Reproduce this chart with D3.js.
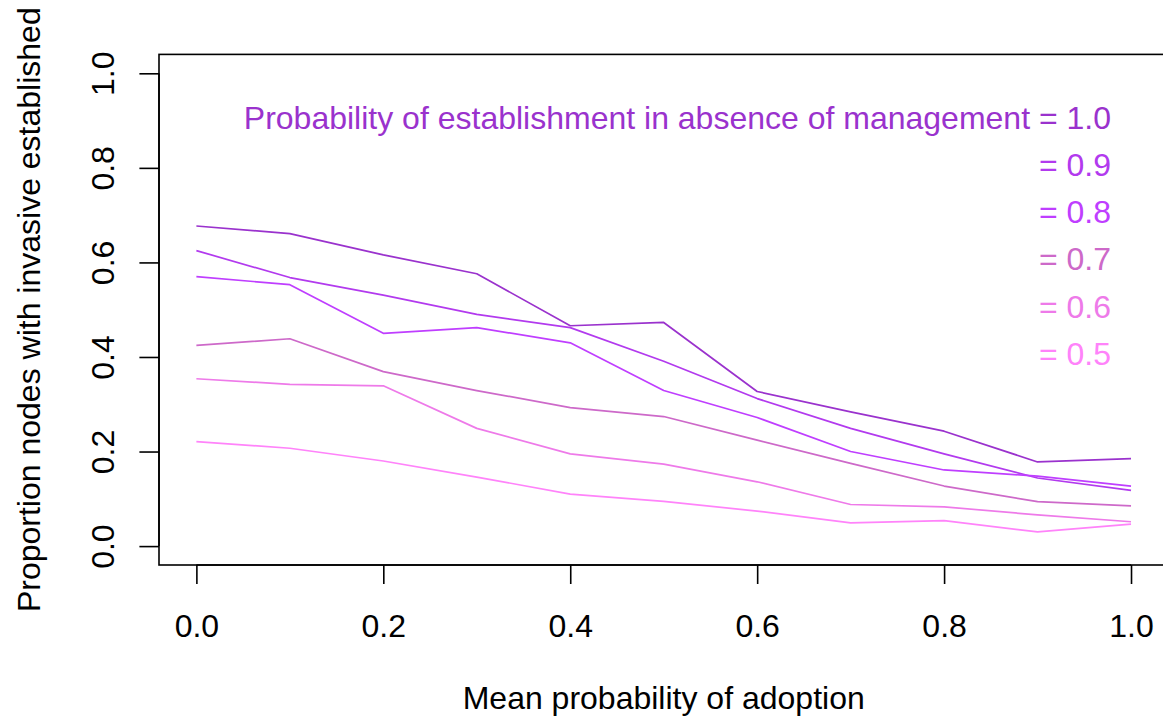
<!DOCTYPE html>
<html>
<head>
<meta charset="utf-8">
<script src="https://cdn.jsdelivr.net/npm/d3@7"></script>
<style>
  html, body { margin: 0; padding: 0; background: #fff; }
  svg { display: block; }
  text { font-family: "Liberation Sans", Arial, Helvetica, sans-serif; }
</style>
</head>
<body>
<svg id="chart" width="1163" height="719"></svg>
<script>
// ---- data ----
const adoption = [0.0, 0.1, 0.2, 0.3, 0.4, 0.5, 0.6, 0.7, 0.8, 0.9, 1.0];
const estab10 = [0.677, 0.661, 0.616, 0.576, 0.466, 0.473, 0.327, 0.284, 0.243, 0.178, 0.185];
const estab09 = [0.625, 0.568, 0.531, 0.490, 0.462, 0.391, 0.312, 0.249, 0.195, 0.144, 0.118];
const estab08 = [0.570, 0.553, 0.450, 0.462, 0.430, 0.329, 0.272, 0.200, 0.161, 0.148, 0.127];
const estab07 = [0.4245, 0.4386, 0.369, 0.329, 0.293, 0.274, 0.224, 0.175, 0.127, 0.094, 0.085];
const estab06 = [0.354, 0.342, 0.339, 0.249, 0.195, 0.1735, 0.136, 0.088, 0.083, 0.066, 0.0515];
const estab05 = [0.221, 0.207, 0.180, 0.146, 0.110, 0.0945, 0.074, 0.049, 0.054, 0.030, 0.0465];
const seriesNames = ["1.0", "0.9", "0.8", "0.7", "0.6", "0.5"];
const seriesColors = ["#9A32CD", "#B23AEE", "#BF3EFF", "#CD69C9", "#EE7AE9", "#FF83FA"];
const xTicks = [0, 0.2, 0.4, 0.6, 0.8, 1.0];
const yTicks = [0, 0.2, 0.4, 0.6, 0.8, 1.0];
const legendY = [0.9, 0.8, 0.7, 0.6, 0.5, 0.4];
const xTitle = "Mean probability of adoption";
const yTitle = "Proportion nodes with invasive established";
const legendPrefix = "Probability of establishment in absence of management ";

const allSeries = [estab10, estab09, estab08, estab07, estab06, estab05];

// ---- layout ----
const svg = d3.select("#chart");
const box = { left: 159, right: 1168.4, top: 54.4, bottom: 565 };
const pad = 0.04;
const x = d3.scaleLinear()
  .domain([0 - pad, 1 + pad])
  .range([box.left, box.right]);
const y = d3.scaleLinear()
  .domain([0 - pad, 1 + pad])
  .range([box.bottom, box.top]);

const fontSize = 32;

// plot box
svg.append("rect")
  .attr("x", box.left).attr("y", box.top)
  .attr("width", box.right - box.left).attr("height", box.bottom - box.top)
  .attr("fill", "none").attr("stroke", "#000").attr("stroke-width", 1.6);

// x axis
const xAxis = d3.axisBottom(x).tickValues(xTicks)
  .tickFormat(d3.format(".1f")).tickSizeOuter(0).tickSizeInner(19).tickPadding(0);
const gx = svg.append("g").attr("transform", `translate(0,${box.bottom})`).call(xAxis);
gx.select(".domain").attr("d", `M${x(0)},0H${x(1)}`).attr("stroke-width", 1.6);
gx.selectAll(".tick line").attr("stroke-width", 1.6);
gx.selectAll(".tick text").attr("font-size", fontSize)
  .attr("font-family", "Liberation Sans, Arial, sans-serif")
  .attr("fill", "#000").attr("dy", null).attr("y", 72);

// y axis
const yAxis = d3.axisLeft(y).tickValues(yTicks)
  .tickFormat(d3.format(".1f")).tickSizeOuter(0).tickSizeInner(19.6).tickPadding(0);
const gy = svg.append("g").attr("transform", `translate(${box.left},0)`).call(yAxis);
gy.select(".domain").attr("d", `M0,${y(0)}V${y(1)}`).attr("stroke-width", 1.6);
gy.selectAll(".tick line").attr("stroke-width", 1.6);
gy.selectAll(".tick text")
  .attr("font-size", fontSize)
  .attr("font-family", "Liberation Sans, Arial, sans-serif")
  .attr("fill", "#000")
  .attr("x", null).attr("dy", null)
  .attr("text-anchor", "middle")
  .attr("transform", "translate(-45,0) rotate(-90)")
  .attr("y", 0);

// axis titles
svg.append("text")
  .attr("x", x(0.5)).attr("y", 709)
  .attr("text-anchor", "middle").attr("font-size", fontSize)
  .text(xTitle);
svg.append("text")
  .attr("transform", `translate(40,${(box.top + box.bottom) / 2}) rotate(-90)`)
  .attr("text-anchor", "middle").attr("font-size", fontSize)
  .text(yTitle);

// lines
const line = d3.line()
  .x((d, i) => x(adoption[i]))
  .y(d => y(d));
allSeries.forEach((s, k) => {
  svg.append("path")
    .datum(s)
    .attr("d", line)
    .attr("fill", "none")
    .attr("stroke", seriesColors[k])
    .attr("stroke-width", 1.7)
    .attr("stroke-linejoin", "round");
});

// legend text
seriesNames.forEach((n, k) => {
  svg.append("text")
    .attr("x", x(1) - 20)
    .attr("y", y(legendY[k]) + 8)
    .attr("text-anchor", "end")
    .attr("font-size", fontSize)
    .attr("fill", seriesColors[k])
    .text((k === 0 ? legendPrefix : "") + "= " + n);
});
</script>
</body>
</html>
